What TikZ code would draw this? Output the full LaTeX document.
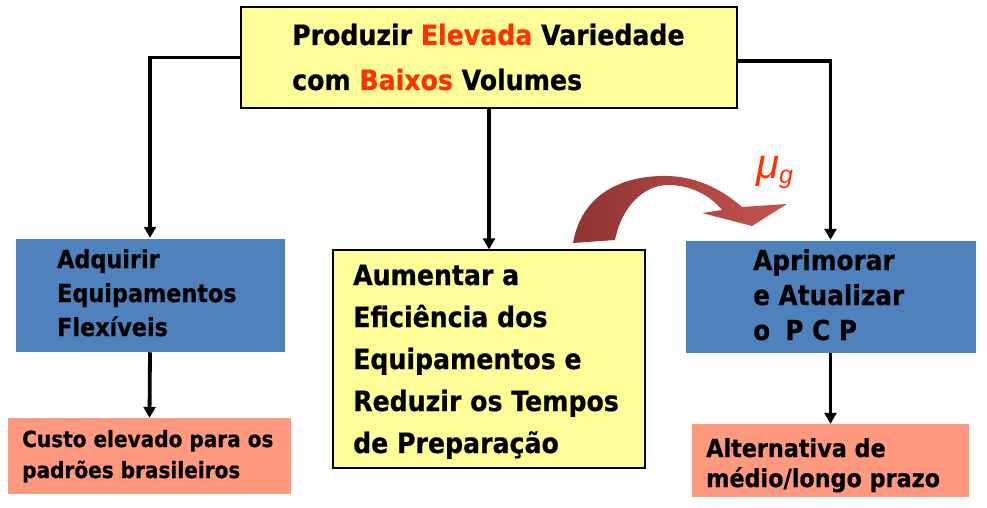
\documentclass[tikz,border=0pt]{standalone}
\usepackage{fontspec}
\setmainfont{DejaVu Sans}[FakeStretch=0.9, BoldFeatures={FakeBold=0.6}]
\newfontfamily\lsans{Liberation Sans}
\usetikzlibrary{arrows.meta}
\definecolor{ylw}{HTML}{FFFF99}
\definecolor{blu}{HTML}{4F81BD}
\definecolor{salmon}{HTML}{FF9980}
\definecolor{redtxt}{HTML}{FF3300}
\definecolor{arrdark}{HTML}{8E3431}
\definecolor{arrlight}{HTML}{C65450}
\tikzset{
  ybox/.style={draw=black, line width=1.2pt, fill=ylw, inner sep=0pt},
  bbox/.style={fill=blu, draw=white, line width=0.5pt, inner sep=0pt},
  pbox/.style={fill=salmon, inner sep=0pt},
  txt/.style={anchor=base west, align=left, inner sep=0pt, text=black},
  conn/.style={line width=3.8pt, -{Triangle[length=11pt,width=12pt]}}
}
\begin{document}
\begin{tikzpicture}[x=1pt,y=-1pt]
\fill[white] (0,0) rectangle (987,508);
\useasboundingbox (0,0) rectangle (987,508);

% boxes
\node[ybox, minimum width=496pt, minimum height=101pt] (top) at (489,57.5) {};
\node[bbox, minimum width=270pt, minimum height=114pt] (lb) at (150,295) {};
\node[pbox, minimum width=283pt, minimum height=76pt] (lp) at (149.5,456) {};
\node[ybox, minimum width=312pt, minimum height=218pt] (cb) at (489,359) {};
\node[bbox, minimum width=291pt, minimum height=113pt] (rb) at (830.5,296.5) {};
\node[pbox, minimum width=277pt, minimum height=73pt] (rp) at (830.5,460.5) {};
\coordinate (tr) at ([yshift=-3.5pt]top.east);

% texts (anchored at the baseline of the last line)
\node[txt, font=\bfseries\fontsize{28}{45}\selectfont] (ttop) at (292,90)
  {Produzir \textcolor{redtxt}{Elevada} Variedade\\com \textcolor{redtxt}{Baixos} Volumes};
\node[txt, font=\bfseries\fontsize{24.8}{34}\selectfont] (tlb) at (57,336)
  {Adquirir\\Equipamentos\\Flexíveis};
\node[txt, font=\bfseries\fontsize{22.3}{31}\selectfont] (tlp) at (22,478)
  {Custo elevado para os\\padrões brasileiros};
\node[txt, font=\bfseries\fontsize{28}{42}\selectfont] (tcb) at (353,453)
  {Aumentar a\\Eficiência dos\\Equipamentos e\\Reduzir os Tempos\\de Preparação};
\node[txt, font=\bfseries\fontsize{27.5}{35}\selectfont] (trb) at (753,340)
  {Aprimorar\\e Atualizar\\o\hspace{0.55em}P C P};
\node[txt, font=\bfseries\fontsize{24.8}{30}\selectfont] (trp) at (706,487)
  {Alternativa de\\médio/longo prazo};

% connectors
\draw[conn] (top.west) -| (lb.north);
\draw[conn] (tr) -| (rb.north);
\draw[conn] (top.south) -- (cb.north);
\draw[conn] (lb.south) -- (lp.north);
\draw[conn] (rb.south) -- (rp.north);

% curved block arrow
\shade[left color=arrdark, right color=arrlight]
  (573,243) .. controls (582,192) and (625,175) .. (668,176)
  .. controls (700,177) and (725,192) .. (742,207)
  -- (787,204) -- (752,226) -- (702,213) -- (722,210)
  .. controls (710,195) and (690,185) .. (668,185)
  .. controls (645,185) and (622,205) .. (615,240) -- cycle;

\node[anchor=base west, inner sep=0pt, text=redtxt, font=\lsans\itshape\fontsize{42}{42}\selectfont] (mu) at (756,178)
  {μ\raisebox{-5pt}{\fontsize{25}{25}\selectfont g}};
\end{tikzpicture}
\end{document}
